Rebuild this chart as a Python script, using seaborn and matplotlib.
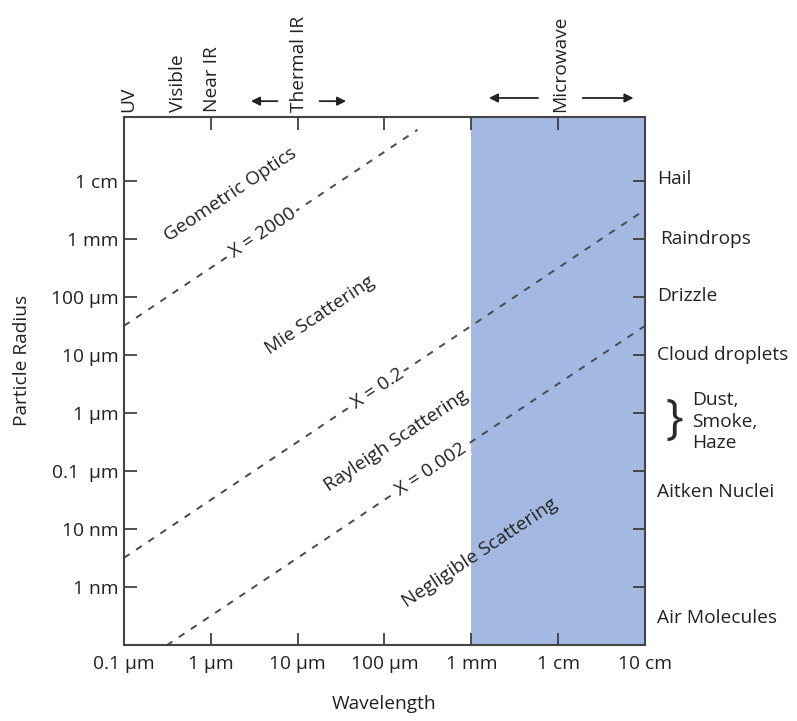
import numpy as np
import matplotlib
matplotlib.use("Agg")
import matplotlib.pyplot as plt
import seaborn as sns
import pandas as pd

sns.set_theme(style="white")
plt.rcParams['font.family'] = ['Open Sans', 'DejaVu Sans']

# ---- data ----
x_ticks = [1e-7, 1e-6, 1e-5, 1e-4, 1e-3, 1e-2, 1e-1]
x_ticklabels = ["0.1 µm", "1 µm", "10 µm", "100 µm", "1 mm", "1 cm", "10 cm"]
y_ticks = [1e-2, 1e-3, 1e-4, 1e-5, 1e-6, 1e-7, 1e-8, 1e-9]
y_ticklabels = ["1 cm", "1 mm", "100 µm", "10 µm", "1 µm", "0.1  µm", "10 nm", "1 nm"]

size_params = [2000, 0.2, 0.002]
size_labels = ["X = 2000", "X = 0.2", "X = 0.002"]
line_lam_start = [1e-7, 1e-7, 3.1e-7]
line_lam_end = [2.4e-4, 1e-1, 1e-1]
label_lam = [10**-5.40, 10**-4.08, 10**-3.47]

region_names = ["Geometric Optics", "Mie Scattering", "Rayleigh Scattering", "Negligible Scattering"]
region_x = [10**-5.78, 10**-4.74, 10**-3.86, 10**-2.90]
region_y = [10**-2.24, 10**-4.31, 10**-6.47, 10**-8.41]

particle_names = ["Hail", "Raindrops", "Drizzle", "Cloud droplets", "Aitken Nuclei", "Air Molecules"]
particle_r = [10**-1.97, 1e-3, 10**-3.98, 1e-5, 10**-7.36, 10**-9.53]
particle_dx = [1.023, 1.029, 1.023, 1.023, 1.023, 1.023]

band_names = ["UV", "Visible", "Near IR", "Thermal IR", "Microwave"]
band_x = [10**-6.95, 10**-6.38, 10**-5.99, 10**-4.99, 10**-1.98]

microwave_span = [1e-3, 1e-1]

xlim = [1e-7, 1e-1]
ylim = [1e-10, 10**-0.897]

FS = 13.8
TXT = '#222222'

# ---- figure ----
fig = plt.figure(figsize=(7.97, 7.21), dpi=100)
ax = fig.add_axes([124/797, 1-645/721, 521/797, 528/721])
ax.set_xscale('log')
ax.set_yscale('log')
ax.set_xlim(xlim)
ax.set_ylim(ylim)

ax.axvspan(microwave_span[0], microwave_span[1], color='#a3b9e1', zorder=0, lw=0)

for X, lab, l0, l1, ll in zip(size_params, size_labels, line_lam_start, line_lam_end, label_lam):
    lam = np.array([l0, l1])
    r = X * lam / (2*np.pi)
    df = pd.DataFrame({"lam": lam, "r": r})
    sns.lineplot(data=df, x="lam", y="r", ax=ax, color='#4a4a4a', lw=1.4,
                 linestyle=(0, (3.5, 4)), zorder=2)
    ax.text(ll, X*ll/(2*np.pi), lab, rotation=33.7, rotation_mode='anchor',
            ha='center', va='center', fontsize=FS, color=TXT, zorder=3,
            bbox=dict(facecolor='white', edgecolor='none', pad=1.5))

for name, xx, yy in zip(region_names, region_x, region_y):
    ax.text(xx, yy, name, rotation=33.7, rotation_mode='anchor', ha='center',
            va='center', fontsize=FS, color=TXT, zorder=3)

# ticks
ax.set_xticks(x_ticks)
ax.set_xticklabels(x_ticklabels, fontsize=FS, color=TXT)
ax.set_yticks(y_ticks)
ax.set_yticklabels(y_ticklabels, fontsize=FS, color=TXT)
ax.minorticks_off()
ax.tick_params(axis='x', which='major', direction='in', length=9, width=1.2,
               color='#333333', top=True, bottom=True, pad=7)
ax.tick_params(axis='y', which='major', direction='in', length=9, width=1.2,
               color='#333333', left=True, right=True, pad=4)
for s in ax.spines.values():
    s.set_color('#444444')
    s.set_linewidth(1.5)
ax.set_xlabel("Wavelength", fontsize=FS, color=TXT, labelpad=16)
ax.set_ylabel("Particle Radius", fontsize=FS, color=TXT)
ax.yaxis.set_label_coords(-0.179, 0.538)

# right-side particle labels
ytrans = ax.get_yaxis_transform()
for name, rr, dx in zip(particle_names, particle_r, particle_dx):
    ax.text(dx, rr, name, transform=ytrans, ha='left', va='center',
            fontsize=FS, color=TXT, clip_on=False)
ax.text(1.091, 10**-6.15, "Dust,\nSmoke,\nHaze", transform=ytrans, ha='left',
        va='center', fontsize=FS, color=TXT, linespacing=1.25, clip_on=False)
ax.text(1.040, 10**-6.13, "}", transform=ytrans, ha='left', va='center',
        fontsize=34, color='#2a2a2a', clip_on=False,
        family=['Open Sans', 'DejaVu Sans'])

# top band labels
xtrans = ax.get_xaxis_transform()
for name, xx in zip(band_names, band_x):
    ax.text(xx, 1.01, name, transform=xtrans, rotation=90, ha='center',
            va='bottom', fontsize=FS, color=TXT, clip_on=False)

arrow_kw = dict(arrowstyle='-|>', color='#222222', lw=1.3, mutation_scale=13)
ax.annotate("", xy=(10**-5.57, 1.030), xytext=(10**-5.20, 1.030),
            xycoords=xtrans, textcoords=xtrans, arrowprops=arrow_kw)
ax.annotate("", xy=(10**-4.41, 1.030), xytext=(10**-4.78, 1.030),
            xycoords=xtrans, textcoords=xtrans, arrowprops=arrow_kw)
ax.annotate("", xy=(10**-2.83, 1.036), xytext=(10**-2.20, 1.036),
            xycoords=xtrans, textcoords=xtrans, arrowprops=arrow_kw)
ax.annotate("", xy=(10**-1.10, 1.036), xytext=(10**-1.75, 1.036),
            xycoords=xtrans, textcoords=xtrans, arrowprops=arrow_kw)

fig.savefig("out.png", dpi=100, facecolor='white')
